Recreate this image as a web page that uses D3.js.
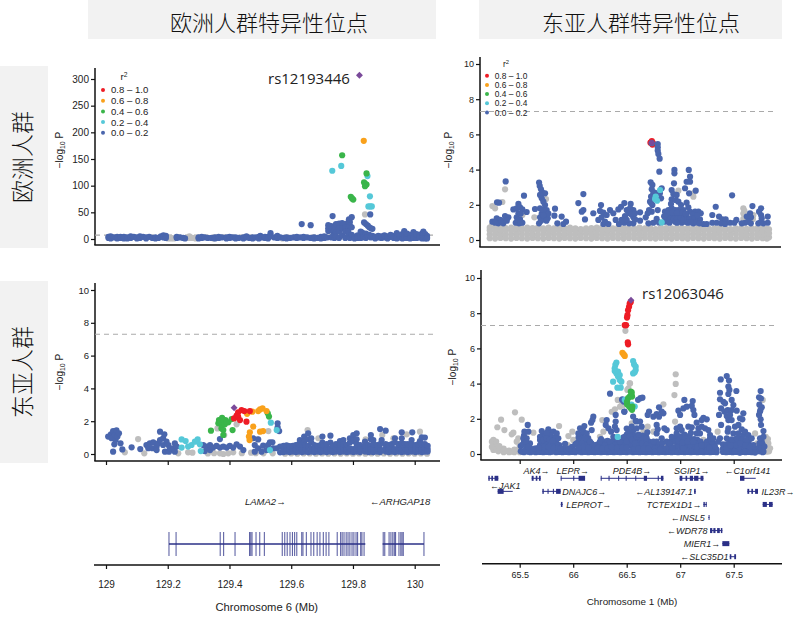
<!DOCTYPE html>
<html>
<head>
<meta charset="utf-8">
<script src="https://cdn.jsdelivr.net/npm/d3@7"></script>
<style>
  html, body { margin: 0; padding: 0; background: #fff; }
  svg { display: block; }
  text { font-family: "Liberation Sans", Arial, sans-serif; fill: #222; }
  .cjk { font-family: "Noto Sans CJK SC", sans-serif; font-weight: 300; fill: #111; }
</style>
</head>
<body>
<svg id="chart" width="800" height="625"></svg>
<script>
// every row is [Mb, -log10 P, -log10 P, ...]
const eurEurGray = [[129.2,1,3],[129.21,1,2],[129.22,1],[129.262,2],[129.27,5,2],[129.28,2],[129.29,1],[129.348,1],[129.572,1],[129.839,46]];
const eurEurBlue = [[129.008,2,4],[129.015,5,1],[129.025,3],[129.036,4,1],[129.047,2,4],[129.058,4,1],[129.069,3,1],[129.08,5,2],[129.09,4],[129.1,3,1],[129.11,5,2],[129.12,4],[129.13,3,1],[129.14,4],[129.15,2],[129.16,3,1],[129.17,2],[129.178,5],[129.186,7,3],[129.194,6,2],
  [129.229,2,4],[129.24,3],[129.25,2],[129.256,1],[129.3,3,1],[129.31,2,4],[129.32,3],[129.33,2],[129.342,2],[129.353,3,1],[129.365,2,4],[129.375,3],[129.39,3,1],[129.4,2,4],[129.41,3],[129.42,3,1],[129.43,2],[129.445,3,1],[129.455,3,5],[129.465,2],[129.475,3,1],[129.485,3],[129.495,4,1],[129.5,6],
  [129.505,3],[129.515,2,4],[129.525,4,1],[129.533,11,5],[129.545,3],[129.555,2,6],[129.565,3],[129.576,2],[129.585,3,1],[129.596,2],[129.607,3],[129.618,2,4],[129.629,3],[129.634,28],[129.64,2,4],[129.652,3],[129.663,26,2],[129.674,3,1],[129.685,2],[129.696,4,1],[129.707,2,5],[129.716,3],
  [129.72,26,20,15],[129.73,24,18,3],[129.735,14,5],[129.74,22,16,2],[129.734,43],[129.745,28,13,4],[129.755,29,20,14,2],[129.765,30,20,7],[129.775,28,21,14,2],[129.785,31,22,15,6],[129.79,25,32,2],[129.787,37],[129.796,41,22,8],[129.805,4,1],[129.815,7,2],[129.825,14,6,2],[129.83,12,3],[129.835,8,4],[129.836,31],[129.842,28,10,2],[129.848,25,5],[129.853,22,8],[129.858,20,3],[129.863,19,6],[129.856,46],
  [129.872,4,1],[129.882,3,6],[129.892,2,5],[129.902,3,7],[129.912,5,1],[129.922,4,8],[129.932,6,2],[129.942,11,4,1],[129.952,3,7],[129.96,5,1,9],[129.966,15,8,2],[129.975,6,2,10],[129.985,4,8,1],[129.996,13,6,2],[130.006,5,2,9],[130.016,8,3],[130.024,10,4,1],[130.028,14,7,2],[130.034,9,5,1],[130.04,6,3,1]];
const eurEurCyan = [[129.733,128],[129.762,137],[129.847,118],[129.855,80],[129.85,61],[129.856,61],[129.861,61]];
const eurEurGreen = [[129.765,157],[129.844,123,102],[129.836,106],[129.841,103],[129.839,99],[129.793,79],[129.797,76],[129.801,74]];
const eurEurOrange = [[129.835,184]];
const eurEurLead = [[129.821,307]];

const eurEasGray = [[129.061,.1],[129.104,.91],[129.124,.04],[129.234,.04],[129.266,.1],[129.28,.08],[129.361,1.56],[129.383,1.16],[129.369,.04],[129.38,0],[129.396,.04],[129.412,.1],[129.423,1.81],[129.33,.03],[129.35,.05],[129.44,.05],[129.47,.08],[129.485,.05],[129.526,1.4],[129.49,.9],[129.51,.04],[129.54,.04],[129.58,.02],[129.6,.03],[129.62,.02],[129.64,.03],[129.653,1.46],[129.66,.03],[129.68,.02],[129.688,.96],[129.7,.03],[129.72,.02],[129.74,.03],[129.76,.02],[129.78,.03],[129.8,.02],[129.82,.03],[129.841,.89],[129.84,.02],[129.86,.03],[129.88,.02],[129.895,1.16],[129.9,.03],[129.92,.02],[129.931,.96],[129.94,.03],[129.96,.02],[129.974,1.2],[129.98,.03],[130.0,.02],[130.017,1.36],[130.02,.03],[130.04,.02]];
const eurEasBlue = [[129.007,1.06],[129.016,1.2],[129.018,.96],[129.023,1.4,.14],[129.027,.59],[129.029,1.16],[129.031,.85],[129.034,1.44],[129.037,1.06],[129.042,1.26],[129.047,.65],[129.053,.28],[129.083,.41],[129.111,.3],
  [129.131,.55],[129.137,.35],[129.142,.65],[129.15,.35],[129.153,.71],[129.164,.45,.24],[129.169,.65],[129.175,1.36,.85],[129.185,.96,.55],[129.189,1.2],[129.191,.14],[129.196,.75],[129.202,.55],[129.204,.14],[129.207,.35],[129.218,.35],[129.223,.65,.14],[129.229,.45],
  [129.315,.55],[129.32,.18],[129.326,.45],[129.337,.55,.24],[129.347,.39],[129.358,.49],[129.369,.39,.91],[129.38,.45],[129.391,.39],[129.401,.49],[129.412,.39],[129.423,.59],[129.434,.45],[129.445,.24],[129.477,.96],[129.482,.55,.14],[129.493,.89,.35],[129.504,.14],[129.509,.51],[129.52,.24],[129.525,.55],[129.531,.71],[129.539,.71],[129.542,.35],[129.553,.35],[129.556,1.87,1.63],[129.561,1.4],[129.564,.45,.1],
  [129.575,.12,.3,.5],[129.585,.15,.35,.52],[129.595,.12,.28,.48],[129.605,.15,.32,.5],[129.615,.12,.3,.55],[129.625,.15,.38,.6],[129.628,.85],[129.635,.12,.3,.58],[129.642,1.06,.75],[129.645,.15,.35,.55],[129.655,1.26,.12,.9,.5],[129.665,.15,.32,.96,.7],[129.675,.12,.3,.55],[129.685,.15,.35,.5],[129.695,.12,.28,.55],[129.701,1.06,.7],[129.705,.15,.35,.5],[129.715,.12,.3,.6],[129.727,1.12,.15,.35,.7],[129.735,.12,.3,.5],[129.745,.15,.35,.6],[129.758,.79,.12,.3,.55],[129.769,.85,.15,.35,.6],[129.78,.12,.3,.55],[129.79,.96,.15,.35,.7],[129.801,1.16,.12,.3,.8],[129.812,1.26,.15,.35,.9,.6],[129.823,.55,.12,.3],[129.839,.75,.15,.35,.5],[129.85,.12,.3,.55],[129.858,1.16,.15,.9,.5,.3],[129.866,.85,.12,.3,.6],[129.878,.15,.35,.55],[129.888,1.52,.12,.3,.6],[129.893,.85],[129.906,1.42,.15,.35,.6],[129.916,.12,.3,.55],[129.926,.15,.35,.6],[129.936,.96,.12,.3,.7],[129.948,.15,.35,.6],[129.958,1.32,.96,.12,.3,.65],[129.968,.15,.35,.6],[129.978,.12,.3,.6],[129.99,.85,.15,.35,.6],[129.992,1.32],[130.002,.12,.3,.55],[130.012,.15,.35,.6],[130.017,.79],[130.023,1.02,.12,.3,.6],[130.033,1.0,.15,.35,.6],[130.042,.15,.3,.5]];
const eurEasCyan = [[129.245,.89,.39],[129.258,.79],[129.266,.45],[129.277,.55],[129.288,.75],[129.297,.89],[129.304,.59],[129.307,.18],[129.531,.24],[129.534,1.91],[129.553,1.46]];
const eurEasGreen = [[129.34,1.42],[129.364,1.87],[129.366,2.07],[129.374,1.87,1.56],[129.376,2.2],[129.38,1.46,1.16],[129.385,1.81],[129.387,2.07],[129.396,1.93],[129.407,2.13],[129.41,1.46],[129.524,2.48],[129.528,2.28],[129.37,2.0],[129.38,2.05],[129.39,1.95]];
const eurEasOrange = [[129.463,1.06],[129.465,.85],[129.466,1.32],[129.474,2.58],[129.477,1.67],[129.493,2.62],[129.499,2.72,1.36],[129.507,2.78],[129.509,1.4],[129.52,2.62],[129.457,2.45]];
const eurEasRed = [[129.415,2.17],[129.423,2.34],[129.428,2.54,2.28],[129.434,2.07],[129.439,2.68],[129.448,2.62],[129.455,1.97],[129.466,2.62]];
const eurEasLead = [[129.415,2.82]];

const easEurGray = [[65.22,.1,.32,.55,.7],[65.27,.08,.3,.5,.66],[65.32,.12,.34,.56,.68],[65.37,.1,.3,.52,.68],[65.42,.08,.32,.54,.7],[65.47,.12,.3,.5,.68],[65.52,.1,.34,.56,.66],[65.57,.08,.3,.52,.7],[65.62,.12,.32,.5,.68],[65.67,.1,.3,.56,.7],[65.72,.08,.34,.52,.66],[65.77,.12,.3,.54,.7],[65.82,.1,.32,.5,.66],[65.87,.08,.3,.56,.7],[65.92,.12,.34,.52,.66],[65.97,.1,.3,.5,.7],[66.02,.08,.32,.54,.66],[66.07,.12,.3,.52,.62],[66.12,.1,.34,.5,.66],[66.17,.08,.3,.54,.68],[66.22,.12,.32,.52,.7],[66.27,.1,.3,.5,.7],[66.32,.08,.34,.56,.68],[66.37,.12,.3,.52,.66],[66.42,.1,.32,.54,.7],[66.47,.08,.3,.5,.66],[66.52,.12,.34,.56,.68],[66.57,.1,.3,.52,.66],[66.62,.08,.32,.54,.7],[66.67,.12,.3,.5,.66],[66.72,.1,.34,.56,.68],[66.77,.08,.3,.52,.62],[66.82,.12,.32,.5,.7],[66.87,.1,.3,.54,.68],[66.92,.08,.34,.52,.66],[66.97,.12,.3,.56,.7],[67.02,.1,.32,.5,.66],[67.07,.08,.3,.54,.68],[67.12,.12,.34,.52,.66],[67.17,.1,.3,.5,.7],[67.22,.08,.32,.56,.68],[67.27,.12,.3,.52,.64],[67.32,.1,.34,.54,.66],[67.37,.08,.3,.5,.68],[67.42,.12,.32,.56,.66],[67.47,.1,.3,.52,.62],[67.52,.08,.34,.54,.66],[67.57,.12,.3,.5,.68],[67.62,.1,.32,.56,.64],[67.67,.08,.3,.52,.66],[67.72,.12,.34,.54,.68],[67.77,.1,.3,.5,.66],[67.81,.08,.32,.52,.64],[67.83,.15,.38,.6],
  [65.245,1.93],[65.27,1.8],[65.338,2.16],[65.363,2.88],[65.525,1.42],[65.746,2.33],[65.637,1.29],[66.983,2.8],[67.123,2.46,2.65],[67.59,1.8,1.5,1.2],[67.684,1.42],[67.6,1.65],[67.68,1.2],[65.24,.85]];
const easEurBlue = [[65.369,3.33],[65.54,2.52],[65.288,2.14],[65.307,2.12],[65.245,1.04],[65.285,1.23],[65.316,1.14],[65.3,.95],[65.347,.95],[65.363,1.36],[65.394,1.29],[65.27,.98],[65.33,1.1],[65.38,1.1],
  [65.488,2.05,1.52],[65.441,1.74],[65.472,1.8,1.29],[65.503,1.86,1.17],[65.525,1.74,.98],[65.565,1.59],[65.51,1.5],[65.463,.98],[65.494,.95],[65.48,1.15],[65.51,1.0],
  [65.681,3.26,.95],[65.687,3.07],[65.699,2.88],[65.712,2.69],[65.737,2.65,1.99,1.48],[65.69,2.56,1.8,1.29],[65.706,2.37,1.5],[65.721,2.18,1.7],[65.752,1.7],[65.73,1.23],[65.762,1.23],[65.768,1.5],[65.643,1.76],[65.7,1.1],[65.72,1.4],[65.75,1.1],
  [65.83,1.78],[65.824,1.38],[65.852,.95],[65.892,1.33],[65.933,1.04],[65.908,.91],[66.048,2.1],[66.095,2.61,1.7],[66.08,1.61],[66.11,1.17],[66.188,1.52],[66.235,1.14],[66.26,1.99],[66.25,1.65],[66.282,1.55,.91],[66.266,1.29],[66.313,1.42],[66.344,1.7],[66.375,1.52],[66.297,1.04],[66.329,.91],[66.397,1.14],[66.428,.91],[66.422,1.74],[66.447,1.89],[66.478,2.1,.98],[66.537,2.05],[66.5,1.7],[66.531,1.8],[66.562,1.7,1.29,.95],[66.484,1.36],[66.522,1.52,.95],[66.453,1.14],[66.5,1.15],[66.545,1.45],
  [66.734,5.5,2.88,1.61],[66.79,5.45,5.27,5.08,1.7],[66.796,4.89],[66.808,4.62],[66.805,3.88],[66.724,3.28],[66.74,3.13,1.99],[66.749,2.65,.98],[66.728,2.46],[66.718,2.18],[66.709,1.7],[66.696,1.52],[66.678,1.29],[66.625,1.57,1.1],[66.578,1.52,1.17],[66.703,.95],[66.81,2.65],[66.827,2.94],[66.821,2.37],[66.76,2.7],[66.73,2.1],[66.78,1.2],[66.8,1.0],
  [66.946,3.98,3.79],[66.942,3.22],[67.08,3.98],[67.092,3.6,3.31,1.61],[67.06,3.31,2.12,1.36],[67.045,2.94,1.04],[67.145,2.8],[67.083,2.65],[66.92,2.84,2.31,1.8,1.14],[66.936,2.61,1.42],[66.967,2.56,1.36],[66.958,2.27],[66.914,2.05],[66.983,2.18,1.7,1.1],[67.008,1.99],[67.076,1.86],[66.858,1.61,1.04],[66.89,1.7,1.1],[66.952,1.7,1.04],[67.03,1.7,1.33],[66.874,1.33],[66.905,1.42],[67.0,1.42],[67.014,.98],[67.108,1.23],[67.139,1.61],[67.17,1.61],[67.192,1.52],[67.123,.95],[67.154,1.29],[67.185,1.17],[67.217,.91],[67.248,.91],[66.88,1.5],[66.93,1.55],[66.97,1.55],[67.02,1.55],[67.05,1.5],[67.12,1.45],[66.87,1.15],[66.905,1.2],[66.94,1.2],[66.97,1.2],[67.0,1.2],[67.03,1.15],[67.07,1.15],[67.09,1.2],[67.13,1.25],[67.16,1.4],[66.85,1.35],[66.9,.98],[66.97,.98],[67.07,.98],[67.1,1.0],[67.15,1.0],[67.18,.95],
  [67.332,1.89],[67.3,1.42,.98],[67.341,.98],[67.363,1.33],[67.394,1.17],[67.382,.95],[67.425,1.17],[67.419,.91],[67.466,.98],[67.506,.98],[67.525,1.14],[67.485,2.54],[67.675,1.93],[67.653,1.52],[67.622,1.33],[67.662,1.29],[67.606,.98],[67.637,1.04],[67.575,.95],[67.66,.95],[67.756,1.8,1.42],[67.737,1.61],[67.818,1.33,.98],[67.762,1.23],[67.73,.95],[67.778,.95],[67.75,1.0]];
const easEurCyan = [[66.812,2.84],[66.771,2.46],[66.765,2.33],[66.784,2.23],[66.827,1.0]];
const easEurRed = [[66.722,5.53],[66.74,5.42],[66.745,5.5],[66.735,5.62]];
const easEurLead = [[66.734,5.53]];

const easEasGray = [[65.456,2.37],[65.326,1.95],[65.291,1.52],[65.357,1.36],[65.519,1.95],[65.441,1.21],[65.425,1.12],[65.868,1.59],[65.992,1.27],[65.955,1.02],[65.628,1.21],[65.254,.8,.23],[65.27,.51],[65.3,.32,.15],[65.332,.23],[65.378,.17],[65.425,.13],[65.472,.23,.7],[65.487,.89],[65.24,.7,.4],[65.28,.7,.25],[65.35,.1,.3],[65.4,.1,.2],[65.45,.1,.25],[65.5,.1,.5],[65.31,.45],
  [66.272,1.93],[66.282,1.27],[66.25,.98],[66.36,2.4],[66.39,2.54],[66.438,2.69],[66.416,3.07],[66.516,3.73],[66.531,4.01],[66.547,1.74],[66.469,2.78],[66.488,7.0],[66.528,4.02],[66.506,3.64],[66.45,3.0],
  [66.958,4.53,3.98],[66.946,3.35],[66.843,2.82],[66.952,1.84],[66.696,1.55],[66.656,1.27],[66.75,1.27],[67.771,3.07],[67.7,1.17],[67.35,1.27],[67.217,.8],[67.824,.6],[67.84,.32],[67.808,.13],[67.8,.98],[67.497,.51],[67.81,.4],[67.83,.15],[67.79,.75],[67.82,.85],[65.95,.5],[66.01,.35],[66.0,.8],[66.88,.5],[66.84,.7],[67.32,.6],[67.68,.3],[67.72,.6]];
const easEasBlue = [[65.575,1.65],[65.544,1.27],[65.581,1.27],[65.534,.89],[65.565,.89],[65.55,.51],[65.596,.6],[65.525,.13],[65.581,.13],[65.55,.2],[65.53,.55],[65.56,.7],[65.58,.4],
  [65.706,1.3,.98,.6,.17],[65.768,1.4],[65.815,1.27],[65.846,1.17,.51,.17],[65.69,.98],[65.737,1.02],[65.783,1.08],[65.83,.89],[65.861,.89],[65.752,.64,.23,1.2],[65.799,.6,.13],[65.659,.32],[65.628,.13],[65.674,.13],[65.892,.13],[65.72,.8],[65.75,.9],[65.78,.8],[65.81,.75],[65.7,.4],[65.73,.4],[65.77,.4],[65.82,.35],[65.86,.35],[65.64,.3],[65.68,.35],[65.91,.3],[65.88,.3],
  [65.939,.23],[65.986,.17],[65.924,.57],[65.96,.3],[66.104,1.59],[66.064,1.46,.89,.13],[66.048,1.17],[66.095,1.27],[66.126,1.17,.51],[66.11,.89,.17],[66.157,.7,.13],[66.033,.6],[66.08,.6],[66.173,1.36],[66.167,1.78],[66.188,2.12],[66.18,1.93],[66.204,.13,.51],[66.25,.17,.7],[66.297,.51,.17],[66.344,.13,.7,3.43],[66.39,.17,.51],[66.438,.13,.7],[66.484,.17,.98,.51],[66.531,.13,.8],[66.578,.17],[66.02,.2],[66.09,.4],[66.14,.35],[66.05,.35],[66.23,.35],[66.27,.3],[66.32,.3],[66.36,.4],[66.41,.35],[66.46,.35],[66.5,.35],
  [66.313,1.93],[66.304,1.65],[66.329,1.46],[66.354,1.27],[66.397,1.84,2.22],[66.39,1.55],[66.406,1.36],[66.375,.98],[66.516,1.27],[66.547,1.55],[66.562,1.08,.51],[66.46,3.11],[66.478,2.41],[66.457,3.08],[66.472,2.98],[66.478,2.4],[66.606,3.08],[66.628,3.17],[66.647,3.2],[66.56,2.13],[66.59,1.85],[66.53,1.0],[66.5,.7],[66.55,.8],[66.57,.3],
  [66.709,2.41],[66.696,2.22],[66.749,2.12],[66.78,2.27,1.65,1.17,.7],[66.802,2.65,2.12],[66.827,2.41,.89],[66.843,2.31],[66.79,1.4],[66.852,1.46],[66.874,1.36,.7],[66.584,1.89],[66.625,1.84,.13],[66.64,1.55,.89,.57],[66.594,1.46,.98,.6],[66.693,1.23],[66.687,.89,.51],[66.578,.6],[66.671,.13],[66.718,.17],[66.734,.51],[66.765,.32,.13],[66.812,.23],[66.61,1.1],[66.61,.3],[66.66,.3],[66.7,.3],[66.75,.7],
  [67.039,3.07],[67.117,3.01],[67.03,2.59],[67.061,2.69],[67.108,2.73,1.52],[67.123,2.5],[66.983,2.46],[66.999,2.22,1.55,.89],[67.133,2.22],[67.076,1.55],[66.967,1.46,1.17,.42,.13],[67.014,1.36,.17],[66.921,.98,.17],[66.905,.6],[66.952,.7],[67.061,.13],[67.045,.51,.89],[67.092,.89,.51],[67.108,.13],[67.154,.17,1.78,1.17],[67.139,.6],[67.201,.13,1.93,1.55],[67.248,.17,1.97,.51],[67.294,.13,.7],[67.325,.42],[67.279,.89,1.08],[67.217,2.06],[67.17,1.46],[67.185,1.17],[67.232,1.46],[67.263,1.36],[67.31,.89],[66.98,.75],[67.02,.65],[67.07,.7],[67.12,.7],[67.16,.4],[67.2,.5],[67.27,.35],[66.93,.35],[67.03,.3],
  [67.382,1.65],[67.444,1.27],[67.372,.89,3.48,3.11],[67.357,.7],[67.435,.34,4.43,2.16,.89],[67.379,4.24],[67.456,4.17],[67.45,3.83,3.41,1.93,1.46],[67.46,3.64],[67.525,3.58],[67.404,2.97],[67.419,2.88],[67.382,2.59],[67.413,2.41],[67.444,2.5],[67.363,2.22],[67.481,3.07,2.5,1.93,.83],[67.497,2.78,1.17],[67.528,2.46,.89],[67.466,2.22],[67.59,2.31,1.08,.42],[67.559,2.03,.08],[67.581,1.97],[67.512,1.55],[67.544,1.65,1.17,.32],[67.575,1.4,.8],[67.606,1.27,.13],[67.637,1.08,.51],[67.622,.8],[67.668,.89],[67.684,.51],[67.506,.13],[67.653,.13],[67.7,.08],[67.52,.5],[67.56,.6],[67.61,.5],[67.65,.4],[67.47,.5],
  [67.752,3.58,1.97],[67.737,3.22,2.22],[67.762,2.65,.7],[67.746,2.41,.89],[67.756,1.65,.32],[67.778,1.3,.98,.13],[67.787,.42],[67.74,2.8],[67.755,3.15],[67.75,2.5]];
// the solid lower part of the east asian peak panel
const easEasBlueBase = [[65.51,.15,.45],[65.54,.1,.7,1.05],[65.57,.15,.35],[65.6,.1,.3],[65.65,.1],[65.69,.12,.5,.8],[65.72,.1,.55,1.1],[65.75,.12,.45],[65.78,.1,.6,1.15],[65.81,.15,.42,.95],[65.84,.1,.7],[65.87,.12,.5],[65.9,.1],[65.93,.12],[65.96,.1],[65.99,.12,.4],[66.02,.1,.55],[66.05,.15,.7,.95],[66.08,.1,.3,1.05],[66.11,.12,.4,.7],[66.14,.1,.6,.9],[66.17,.12,.4,.6],[66.2,.1,.3],[66.23,.12,.55],[66.26,.1,.4,.85],[66.29,.12,.35,.7],[66.32,.1,.5,.75],[66.35,.12,.3,.5],[66.38,.1,.35,.7],[66.41,.12,.55,.85],[66.44,.1,.3,.5],[66.47,.12,.7,.95],[66.5,.1,.5,1.1,1.45],[66.53,.15,.5,.85,1.1],[66.56,.1,.3,.8,1.3],[66.59,.12,.4,.75],[66.62,.1,.5,.75],[66.65,.12,.4,.7,1.05],[66.68,.1,.3,.7,1.0],[66.71,.12,.35,.7],[66.74,.1,.3],[66.77,.12,.5],[66.8,.1,.4,.55],[66.83,.12,.6,.35],[66.86,.1,.3],[66.89,.12,.45],[66.92,.1,.4,.75],[66.95,.12,.3,.9],[66.98,.1,.55,.95],[67.01,.12,.35,.7,1.0],[67.04,.1,.3,.7,1.1],[67.07,.12,.45,1.0],[67.1,.1,.35,.7,1.2],[67.13,.12,.4,.85],[67.16,.1,.55,.8],[67.19,.12,.35,.7],[67.22,.1,.3,.55],[67.25,.12,.4,.7],[67.28,.1,.55,.75],[67.31,.12,.3,.6],[67.34,.1,.25],[67.4,.12,.3,.55],[67.43,.1,.55],[67.46,.12,.3,.7],[67.49,.1,.4,.65],[67.52,.12,.3,.7],[67.55,.1,.5,.9],[67.58,.12,.3,.6],[67.61,.1,.3,.7],[67.64,.12,.3,.7],[67.67,.1,.3],[67.7,.12,.3],[67.74,.15,.4,.6],[67.77,.1,.3,.55]];
const easEasCyan = [[66.404,5.2,4.58],[66.394,5.06],[66.388,4.87,4.72],[66.419,4.68,4.4],[66.435,4.49,4.21],[66.45,4.11],[66.373,4.11],[66.413,3.77],[66.444,3.77],[66.56,5.28,4.58],[66.569,5.09],[66.584,4.96,4.77],[66.575,4.64,2.7],[66.482,3.08],[66.544,2.8],[66.416,.97]];
const easEasGreen = [[66.538,3.55,2.6],[66.544,3.36],[66.528,3.26],[66.513,3.17],[66.503,2.98,2.83],[66.522,2.7],[66.55,2.51,3.26],[66.553,2.7],[66.547,3.5]];
const easEasOrange = [[66.46,5.75],[66.472,5.66],[66.482,5.57]];
const easEasRed = [[66.528,8.55],[66.538,8.64],[66.522,8.36],[66.513,8.17,6.23],[66.507,7.89],[66.503,7.75],[66.494,7.32],[66.482,7.32],[66.51,6.34]];
const easEasLead = [[66.54,8.74]];

const legendLabels = ['0.8 – 1.0', '0.6 – 0.8', '0.4 – 0.6', '0.2 – 0.4', '0.0 – 0.2'];
const legendColors = ['#ee1c25', '#f9a11b', '#3ab54a', '#55c8d8', '#4a66ad'];
const columnTitles = ['欧洲人群特异性位点', '东亚人群特异性位点'];
const rowTitles = ['欧洲人群', '东亚人群'];

const chr6Ticks = [129, 129.2, 129.4, 129.6, 129.8, 130];
const chr1Ticks = [65.5, 66, 66.5, 67, 67.5];
const pTicks = [0, 2, 4, 6, 8, 10];
const pTicksEur = [0, 50, 100, 150, 200, 250, 300];

const lamaExons = [129.204,129.227,129.37,129.381,129.418,129.465,129.469,129.473,129.486,129.498,129.513,129.571,129.579,129.587,129.596,129.604,129.611,129.618,129.634,129.638,129.649,129.664,129.673,129.684,129.693,129.704,129.713,129.722,129.749,129.76,129.765,129.771,129.778,129.784,129.79,129.797,129.803,129.81,129.815,129.825,129.829,129.836,129.898,129.903,129.917,129.923,129.929,129.934,129.938,129.949,129.955,129.959,129.963,130.03];
const lamaSpans = [[129.204, 129.84], [129.896, 130.03]];

// name, label centre, label row, track row, gene start, gene end, exon blocks
const chr1Names = ['', 'AK4→', 'LEPR→', 'PDE4B→', 'SGIP1→', '←C1orf141', '←JAK1', 'DNAJC6→', '←AL139147.1', 'IL23R→', 'LEPROT→', 'TCTEX1D1→', '', '←INSL5', '←WDR78', 'MIER1→', '←SLC35D1'];
const chr1LabelMb = [0, 65.656, 65.995, 66.55, 67.107, 67.628, 65.366, 66.104, 66.849, 67.914, 66.145, 66.942, 0, 67.07, 67.067, 67.204, 67.226];
const chr1LabelRows = [0, -0.59, -0.59, -0.59, -0.59, -0.59, 0.57, 1, 1, 1, 2, 2, 2, 3, 4, 5, 6];
const chr1Rows = [0, 0, 0, 0, 0, 0, 1, 1, 1, 1, 2, 2, 2, 3, 4, 5, 6];
const chr1Starts = [65.207, 65.612, 65.883, 66.257, 66.995, 67.559, 65.294, 65.712, 67.129, 67.628, 65.883, 67.217, 67.771, 67.263, 67.279, 67.394, 67.463];
const chr1Ends = [65.3, 65.696, 66.111, 66.843, 67.217, 67.706, 65.435, 65.883, 67.145, 67.727, 65.902, 67.248, 67.864, 67.273, 67.394, 67.459, 67.522];
const chr1Exons = [
  [[65.207,65.22],[65.235,65.25],[65.265,65.3]], [[65.612,65.63],[65.65,65.665],[65.68,65.696]], [[65.883,65.89],[66.0,66.01],[66.05,66.111]],
  [[66.257,66.265],[66.33,66.34],[66.42,66.428],[66.49,66.5],[66.58,66.588],[66.66,66.69],[66.79,66.8],[66.82,66.843]],
  [[66.995,67.02],[67.05,67.065],[67.09,67.12],[67.13,67.17],[67.19,67.217]], [[67.559,67.6]], [[65.294,65.35]],
  [[65.712,65.725],[65.76,65.77],[65.81,65.82],[65.84,65.883]], [[67.13,67.145]], [[67.628,67.645],[67.665,67.68],[67.7,67.727]], [[65.885,65.9]],
  [[67.217,67.23],[67.238,67.248]], [[67.771,67.81],[67.83,67.864]], [[67.265,67.272]], [[67.279,67.3],[67.31,67.33],[67.345,67.37],[67.38,67.394]], [[67.394,67.459]], [[67.463,67.478],[67.505,67.522]]
];

const svg = d3.select('#chart');
const BLUE = '#4a66ad', GRAY = '#bebebe', CYAN = '#55c8d8', GREEN = '#3ab54a', ORANGE = '#f9a11b', RED = '#ee1c25', LEAD = '#7a4a9a';

function unroll(rows) {
  return rows.flatMap(r => r.slice(1).map(v => [r[0], v]));
}

// column header boxes and row header boxes
[[88, 348, 269], [479, 303, 641]].forEach((b, i) => {
  svg.append('rect').attr('x', b[0]).attr('y', 0).attr('width', b[1]).attr('height', 39).attr('fill', '#f2f2f2');
  svg.append('text').attr('class', 'cjk').attr('x', b[2]).attr('y', 31)
    .attr('text-anchor', 'middle').attr('font-size', 22).text(columnTitles[i]);
});
[[66, 182, 157], [281, 182, 372]].forEach((b, i) => {
  svg.append('rect').attr('x', 0).attr('y', b[0]).attr('width', 48).attr('height', b[1]).attr('fill', '#f2f2f2');
  svg.append('text').attr('class', 'cjk').attr('text-anchor', 'middle').attr('font-size', 23)
    .attr('transform', `translate(31,${b[2]}) rotate(-90)`).text(rowTitles[i]);
});

function drawPanel(o) {
  const x = d3.scaleLinear().domain(o.xDomain).range(o.xRange);
  const y = d3.scaleLinear().domain(o.yDomain).range(o.yRange);
  const g = svg.append('g');

  g.append('line').attr('x1', o.left).attr('x2', o.left).attr('y1', o.top).attr('y2', o.bottom)
    .attr('stroke', '#111').attr('stroke-width', 1.5);
  g.append('line').attr('x1', o.left - 0.7).attr('x2', o.right).attr('y1', o.bottom).attr('y2', o.bottom)
    .attr('stroke', '#111').attr('stroke-width', 1.5);

  const yAxis = g.append('g').attr('transform', `translate(${o.left},0)`)
    .call(d3.axisLeft(y).tickValues(o.yTicks).tickSize(4).tickPadding(2).tickFormat(d3.format('d')));
  yAxis.select('.domain').remove();
  yAxis.selectAll('line').attr('stroke', '#111').attr('stroke-width', 1.2);
  yAxis.selectAll('text').attr('font-size', o.fontSize).attr('font-family', '"Liberation Sans"');

  if (o.xTicks) {
    const xAxis = g.append('g').attr('transform', `translate(0,${o.bottom})`)
      .call(d3.axisBottom(x).tickValues(o.xTicks).tickSize(4).tickFormat(''));
    xAxis.select('.domain').remove();
    xAxis.selectAll('line').attr('stroke', '#111').attr('stroke-width', 1.2);
  }

  g.append('line').attr('x1', o.left).attr('x2', o.right - 6)
    .attr('y1', y(7.3)).attr('y2', y(7.3))
    .attr('stroke', '#aaa').attr('stroke-width', 1.1).attr('stroke-dasharray', '5,4');

  o.layers.forEach(l => {
    g.append('g').selectAll('circle').data(unroll(l.rows)).join('circle')
      .attr('cx', d => x(d[0])).attr('cy', d => y(d[1])).attr('r', o.r).attr('fill', l.color);
  });

  g.append('g').selectAll('path').data(unroll(o.lead)).join('path')
    .attr('d', d3.symbol(d3.symbolSquare, 24))
    .attr('transform', d => `translate(${x(d[0])},${y(d[1])}) rotate(45)`)
    .attr('fill', LEAD);

  const t = g.append('text').attr('font-size', 10)
    .attr('transform', `translate(${o.labelX},${o.labelY}) rotate(-90)`).attr('text-anchor', 'middle');
  t.append('tspan').text('−log');
  t.append('tspan').attr('font-size', 7).attr('dy', 2).text('10');
  t.append('tspan').attr('dy', -2).text(' P');
  return {x, y};
}

function drawLegend(px, py, step, tx, size, rx, ry) {
  const t = svg.append('text').attr('x', rx).attr('y', ry).attr('font-size', size).attr('text-anchor', 'middle');
  t.append('tspan').text('r');
  t.append('tspan').attr('font-size', size * 0.7).attr('dy', -3).text('2');
  legendLabels.forEach((l, i) => {
    svg.append('circle').attr('cx', px).attr('cy', py + i * step).attr('r', 2).attr('fill', legendColors[i]);
    svg.append('text').attr('x', tx).attr('y', py + i * step + size * 0.36).attr('font-size', size).text(l);
  });
}

const chr6Domain = [129, 130], chr6Range = [106, 414.7];
const chr1Domain = [65.5, 67.5], chr1Range = [519.7, 733.7];

drawPanel({
  xDomain: chr6Domain, xRange: chr6Range, yDomain: [0, 300], yRange: [239, 79], yTicks: pTicksEur,
  left: 95, right: 440, top: 68, bottom: 245, fontSize: 10, r: 3.1, labelX: 63, labelY: 150,
  layers: [{rows: eurEurGray, color: GRAY}, {rows: eurEurBlue, color: BLUE}, {rows: eurEurCyan, color: CYAN}, {rows: eurEurGreen, color: GREEN}, {rows: eurEurOrange, color: ORANGE}],
  lead: eurEurLead
});
drawPanel({
  xDomain: chr6Domain, xRange: chr6Range, yDomain: [0, 10], yRange: [454, 290], yTicks: pTicks, xTicks: chr6Ticks,
  left: 95, right: 440, top: 283, bottom: 461, fontSize: 9.5, r: 3.1, labelX: 63, labelY: 372,
  layers: [{rows: eurEasGray, color: GRAY}, {rows: eurEasBlue, color: BLUE}, {rows: eurEasCyan, color: CYAN}, {rows: eurEasGreen, color: GREEN}, {rows: eurEasOrange, color: ORANGE}, {rows: eurEasRed, color: RED}],
  lead: eurEasLead
});
drawPanel({
  xDomain: chr1Domain, xRange: chr1Range, yDomain: [0, 10], yRange: [240, 64], yTicks: pTicks,
  left: 480, right: 781, top: 57, bottom: 247, fontSize: 9, r: 3.1, labelX: 452, labelY: 150,
  layers: [{rows: easEurGray, color: GRAY}, {rows: easEurRed, color: RED}, {rows: easEurBlue, color: BLUE}, {rows: easEurCyan, color: CYAN}],
  lead: easEurLead
});
drawPanel({
  xDomain: chr1Domain, xRange: chr1Range, yDomain: [0, 10], yRange: [454, 278], yTicks: pTicks, xTicks: chr1Ticks,
  left: 481, right: 782, top: 270, bottom: 460, fontSize: 9, r: 3.1, labelX: 456, labelY: 367,
  layers: [{rows: easEasGray, color: GRAY}, {rows: easEasBlueBase, color: BLUE}, {rows: easEasBlue, color: BLUE}, {rows: easEasCyan, color: CYAN}, {rows: easEasGreen, color: GREEN}, {rows: easEasOrange, color: ORANGE}, {rows: easEasRed, color: RED}],
  lead: easEasLead
});

drawLegend(103, 90, 10.7, 111, 9.6, 124, 80);
drawLegend(487, 75.7, 9.2, 494.7, 8.4, 506, 67);

svg.append('text').attr('x', 268).attr('y', 84).attr('font-size', 15).style('font-family', '"Open Sans"').text('rs12193446');
svg.append('text').attr('x', 642).attr('y', 299).attr('font-size', 15).style('font-family', '"Open Sans"').text('rs12063046');

// gene track, chromosome 6
const x6 = d3.scaleLinear().domain(chr6Domain).range(chr6Range);
const NAVY = '#2b3087';
svg.append('g').selectAll('line').data(lamaSpans).join('line')
  .attr('x1', d => x6(d[0])).attr('x2', d => x6(d[1])).attr('y1', 544).attr('y2', 544)
  .attr('stroke', NAVY).attr('stroke-width', 1.6);
svg.append('g').selectAll('line').data(lamaExons).join('line')
  .attr('x1', d => x6(d)).attr('x2', d => x6(d)).attr('y1', 532).attr('y2', 556)
  .attr('stroke', NAVY).attr('stroke-width', 1.1).attr('stroke-opacity', 0.75);
svg.append('text').attr('x', 245).attr('y', 505).attr('font-size', 9.5).attr('font-style', 'italic').text('LAMA2→');
svg.append('text').attr('x', 370).attr('y', 505).attr('font-size', 9.5).attr('font-style', 'italic').text('←ARHGAP18');

const axis6 = svg.append('g').attr('transform', 'translate(0,565)')
  .call(d3.axisBottom(x6).tickValues(chr6Ticks).tickSize(4).tickPadding(12).tickFormat(d => d));
axis6.select('.domain').remove();
axis6.selectAll('line').attr('stroke', '#111').attr('stroke-width', 1.2);
axis6.selectAll('text').attr('font-size', 10).attr('font-family', '"Liberation Sans"');
svg.append('line').attr('x1', 94).attr('x2', 440).attr('y1', 565).attr('y2', 565).attr('stroke', '#111').attr('stroke-width', 1.5);
svg.append('text').attr('x', 266.8).attr('y', 611).attr('text-anchor', 'middle').attr('font-size', 11.2).text('Chromosome 6 (Mb)');

// gene track, chromosome 1
const x1 = d3.scaleLinear().domain(chr1Domain).range(chr1Range);
const rowY = d3.scaleLinear().domain([0, 6]).range([478.3, 556.7]);
chr1Names.forEach((name, i) => {
  const yy = rowY(chr1Rows[i]);
  svg.append('line').attr('x1', x1(chr1Starts[i])).attr('x2', x1(chr1Ends[i])).attr('y1', yy).attr('y2', yy)
    .attr('stroke', NAVY).attr('stroke-width', 1);
  svg.append('g').selectAll('rect').data(chr1Exons[i]).join('rect')
    .attr('x', d => x1(d[0])).attr('width', d => Math.max(1, x1(d[1]) - x1(d[0])))
    .attr('y', yy - 2.5).attr('height', 5).attr('fill', NAVY);
  if (name) {
    svg.append('text').attr('x', x1(chr1LabelMb[i])).attr('y', rowY(chr1LabelRows[i]) + 3.2).attr('text-anchor', 'middle')
      .attr('font-size', 9).attr('font-style', 'italic').text(name);
  }
});
const axis1 = svg.append('g').attr('transform', 'translate(0,563.7)')
  .call(d3.axisBottom(x1).tickValues(chr1Ticks).tickSize(4).tickPadding(4).tickFormat(d => d));
axis1.select('.domain').remove();
axis1.selectAll('line').attr('stroke', '#111').attr('stroke-width', 1.2);
axis1.selectAll('text').attr('font-size', 9).attr('font-family', '"Liberation Sans"');
svg.append('line').attr('x1', 482).attr('x2', 782).attr('y1', 563.7).attr('y2', 563.7).attr('stroke', '#111').attr('stroke-width', 1.5);
svg.append('text').attr('x', 632).attr('y', 605).attr('text-anchor', 'middle').attr('font-size', 9.9).text('Chromosome 1 (Mb)');
</script>
</body>
</html>
